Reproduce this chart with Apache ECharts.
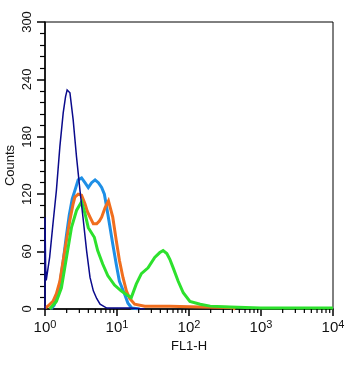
<!DOCTYPE html>
<html>
<head>
<meta charset="utf-8">
<script src="https://cdn.jsdelivr.net/npm/echarts@6/dist/echarts.min.js"></script>
<style>
html,body{margin:0;padding:0;background:#fff;}
#chart{width:357px;height:365px;}
</style>
</head>
<body>
<div id="chart"></div>
<script>
// FL1-H channel value (log scale) vs Counts
const navy = [[1.0,0],[1.0,96],[1.02,45],[1.04,30],[1.067,29],[1.16,54],[1.29,89],[1.44,124],[1.61,170],[1.79,205],[1.93,222],[2.03,229],[2.22,226],[2.46,198],[2.74,159],[3.06,124],[3.40,93],[3.78,61],[4.22,33],[4.69,19],[5.22,11],[5.82,5],[7.20,1],[10,1],[15,1],[24.3,0]];
const lightBlue = [[1.21,0],[1.34,4],[1.47,12],[1.62,28],[1.79,50],[1.97,75],[2.17,98],[2.39,115],[2.63,125],[2.74,126],[2.89,135],[3.22,137],[3.59,132],[3.99,127],[4.44,132],[4.96,135],[5.51,132],[6.12,127],[6.68,120],[7.13,108],[7.85,89],[8.73,68],[9.75,47],[10.8,29],[12.7,16],[14.2,6],[16.0,1],[20.6,0]];
const orange = [[1.0,1],[1.10,3],[1.29,8],[1.44,16],[1.61,29],[1.79,51],[1.99,72],[2.22,93],[2.46,110],[2.60,117],[2.89,120],[3.22,119],[3.59,110],[3.87,102],[4.22,96],[4.69,89],[5.22,89],[5.69,92],[6.12,96],[6.84,106],[7.61,113],[7.98,114],[8.73,96],[9.75,72],[10.8,51],[12.1,33],[13.5,19],[15.0,11],[17.6,5],[24.3,3],[54.2,3],[143,2],[374,1.5],[440,0]];
const green = [[1.16,0],[1.44,8],[1.69,22],[1.99,54],[2.33,85],[2.74,103],[3.22,112],[3.59,100],[3.99,85],[4.84,75],[5.39,61],[6.33,47],[7.44,35],[9.23,25],[11.4,19],[14.2,14],[15.8,12],[18.5,26],[21.8,37],[27.0,43],[33.4,54],[39.3,59],[43.7,61],[49.2,58],[54.2,52],[60.3,43],[70.8,29],[83.2,17],[103,8],[143,5],[197,3],[374,2],[984,1],[3565,1],[10000,1]];
const xMinorTicks = [2,3,4,5,6,7,8,9,20,30,40,50,60,70,80,90,200,300,400,500,600,700,800,900,2000,3000,4000,5000,6000,7000,8000,9000];
const yTicks = [0,60,120,180,240,300];

const chart = echarts.init(document.getElementById('chart'), null, {renderer:'canvas'});
const font = 'Liberation Sans, Arial, sans-serif';
function lineSeries(data, color, width, z){
  return {type:'line', data:data, symbol:'none', z:z, animation:false,
    lineStyle:{color:color, width:width, join:'miter'}, clip:true};
}
chart.setOption({
  animation:false,
  grid:{left:45, right:24, top:22, bottom:56, outerBoundsMode:'none', containLabel:false, show:true, borderColor:'#000', borderWidth:1, backgroundColor:'transparent'},
  xAxis:{type:'log', logBase:10, min:1, max:10000,
    name:'FL1-H', nameLocation:'middle', nameGap:31, nameMoveOverlap:false,
    nameTextStyle:{fontFamily:font, fontSize:13, color:'#111'},
    axisLine:{show:true, onZero:false, lineStyle:{color:'#000', width:1.5}},
    axisTick:{show:true, length:7, lineStyle:{color:'#000', width:1.5}},
    minorTick:{show:false},
    splitLine:{show:false},
    axisLabel:{margin:10, color:'#111',
      formatter:function(v){return '{b|10}{s|' + Math.round(Math.log10(v)) + '}';},
      rich:{b:{fontFamily:font, fontSize:15, color:'#111', verticalAlign:'bottom'},
            s:{fontFamily:font, fontSize:11, color:'#111', verticalAlign:'top', padding:[0,0,5,0]}}}
  },
  yAxis:{type:'value', min:yTicks[0], max:yTicks[yTicks.length-1], interval:60,
    name:'Counts', nameLocation:'middle', nameGap:28, nameRotate:90, nameMoveOverlap:false,
    nameTextStyle:{fontFamily:font, fontSize:13, color:'#111'},
    axisLine:{show:true, lineStyle:{color:'#000', width:1.5}},
    axisTick:{show:true, length:8, lineStyle:{color:'#000', width:1.5}},
    minorTick:{show:true, splitNumber:5, length:5, lineStyle:{color:'#000', width:1.2}},
    splitLine:{show:false},
    axisLabel:{rotate:90, margin:11, fontFamily:font, fontSize:13, color:'#111'}
  },
  series:[
    lineSeries(lightBlue, '#1e8fe6', 3, 2),
    lineSeries(orange, '#f06e1e', 3, 3),
    lineSeries(green, '#2de12d', 3, 4),
    lineSeries(navy, '#0a0a8c', 1.5, 5),
    {type:'custom', data:xMinorTicks.map(v=>[v,0]), z:6, clip:false, silent:true,
      renderItem:function(params, api){
        const p = api.coord([api.value(0), 0]);
        return {type:'line', shape:{x1:p[0], y1:p[1], x2:p[0], y2:p[1]+4}, style:{stroke:'#000', lineWidth:1.2}};
      }}
  ]
});
</script>
</body>
</html>
